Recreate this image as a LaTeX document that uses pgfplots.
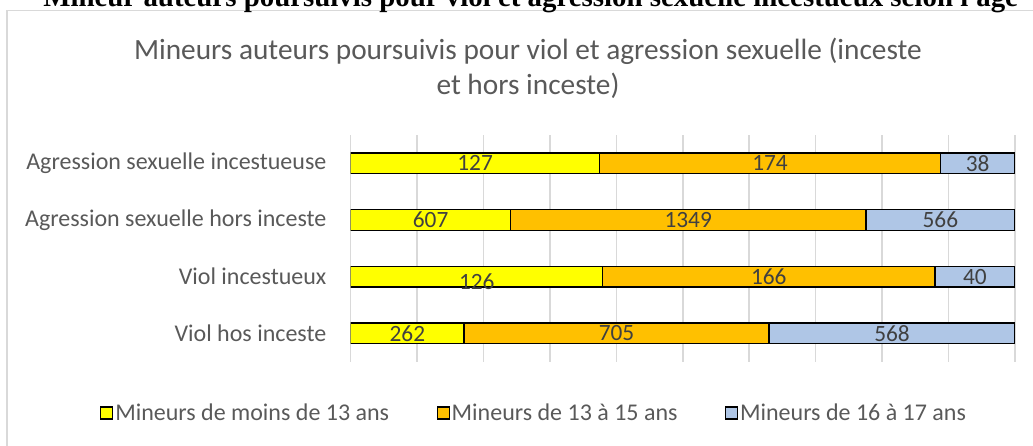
\documentclass[border=0pt]{standalone}
\usepackage{fontspec}
\setmainfont{Carlito}
\newfontfamily\seriffont{Liberation Serif}
\usepackage{pgfplots}
\pgfplotsset{compat=1.18}
\definecolor{cyel}{HTML}{FFFF00}
\definecolor{corg}{HTML}{FFC000}
\definecolor{cblu}{HTML}{AFC6E6}
\definecolor{cgrid}{HTML}{D9D9D9}
\definecolor{ctxt}{HTML}{595959}
\definecolor{clab}{HTML}{404040}
\pgfplotsset{
  base/.style={
    scale only axis, width=498.2pt, height=170pt,
    xmin=0, xmax=100, ymin=-0.5, ymax=3.5,
    at={(263pt,63.2pt)}, anchor=south west,
  }
}
\begin{document}
\begin{tikzpicture}
\useasboundingbox (0,0) rectangle (774.75pt,334.5pt);
\draw[cgrid, line width=1pt] (5.25pt,-5pt) -- (5.25pt,326.6pt) -- (780pt,326.6pt);
\node[anchor=base west, inner sep=0pt] at (32.25pt,329.6pt) {\resizebox{731pt}{!}{\seriffont\bfseries Mineur auteurs poursuivis pour viol et agression sexuelle incestueux selon l'âge}};
\node[anchor=base, inner sep=0pt, text=ctxt, font=\fontsize{22}{26}\selectfont] at (396pt,289.5pt) {Mineurs auteurs poursuivis pour viol et agression sexuelle (inceste};
\node[anchor=base, inner sep=0pt, text=ctxt, font=\fontsize{22}{26}\selectfont] at (396pt,263.25pt) {et hors inceste)};
\begin{axis}[base,
  xbar stacked, bar width=15.4pt,
  xtick={0,10,...,100}, xticklabels={},
  xmajorgrids, major grid style={cgrid, line width=1.1pt},
  axis line style={draw=none}, tick style={draw=none},
  ytick={0,1,2,3},
  yticklabels={Viol hos inceste, Viol incestueux, Agression sexuelle hors inceste, Agression sexuelle incestueuse},
  yticklabel style={font=\fontsize{18}{21}\selectfont, text=ctxt, inner sep=0pt, xshift=-18pt},
  every axis plot/.append style={draw=black, line width=1pt},
  legend image code/.code={\draw[#1, draw=black, line width=0.9pt] (0pt,-4.5pt) rectangle (9pt,4.5pt);},
  legend columns=3,
  legend style={at={(0.276,-0.226)}, anchor=center, draw=none, fill=none,
    font=\fontsize{18}{21}\selectfont, text=ctxt,
    nodes={inner sep=1.5pt},
    /tikz/every even column/.append style={column sep=34pt}},
]
\addplot[fill=cyel] coordinates {(17.068,0) (37.952,1) (24.068,2) (37.463,3)};
\addplot[fill=corg] coordinates {(45.928,0) (50.000,1) (53.489,2) (51.327,3)};
\addplot[fill=cblu] coordinates {(37.003,0) (12.048,1) (22.443,2) (11.210,3)};
\legend{Mineurs de moins de 13 ans, Mineurs de 13 à 15 ans, Mineurs de 16 à 17 ans}
\end{axis}
\begin{axis}[base, hide axis, clip=false]
\addplot[draw=none, mark=none, nodes near coords, point meta=explicit symbolic,
  nodes near coords align={anchor=center},
  every node near coord/.append style={font=\fontsize{17.5}{20}\selectfont, text=clab, inner sep=0pt}]
  coordinates {
  (18.73,3) [127] (63.13,3) [174] (94.40,3) [38]
  (12.03,2) [607] (50.81,2) [1349] (88.78,2) [566]
  (18.98,0.92) [126] (62.95,1) [166] (93.98,1) [40]
  (8.53,0) [262] (40.03,0) [705] (81.50,0) [568]
  };
\end{axis}
\end{tikzpicture}
\end{document}
